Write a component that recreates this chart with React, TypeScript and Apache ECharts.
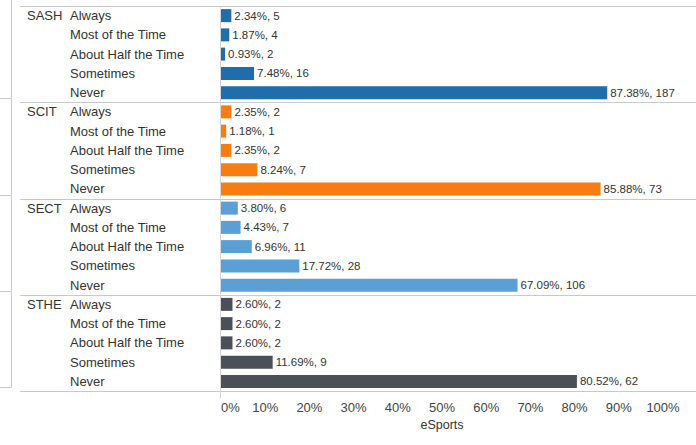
import React, { useEffect, useRef } from "react";
import * as echarts from "echarts";

const groups = ["SASH", "SCIT", "SECT", "STHE"];
const responses = ["Always", "Most of the Time", "About Half the Time", "Sometimes", "Never"];
const groupColors = ["#1f6dab", "#f87d10", "#5b9fd5", "#4b5058"];
const pctSASH = [2.34, 1.87, 0.93, 7.48, 87.38];
const cntSASH = [5, 4, 2, 16, 187];
const pctSCIT = [2.35, 1.18, 2.35, 8.24, 85.88];
const cntSCIT = [2, 1, 2, 7, 73];
const pctSECT = [3.8, 4.43, 6.96, 17.72, 67.09];
const cntSECT = [6, 7, 11, 28, 106];
const pctSTHE = [2.6, 2.6, 2.6, 11.69, 80.52];
const cntSTHE = [2, 2, 2, 9, 62];
const xTicks = [0, 10, 20, 30, 40, 50, 60, 70, 80, 90, 100];

const pcts = [pctSASH, pctSCIT, pctSECT, pctSTHE];
const cnts = [cntSASH, cntSCIT, cntSECT, cntSTHE];

export default function App() {
  const ref = useRef<HTMLDivElement>(null);
  useEffect(() => {
    document.body.style.margin = "0";
    if (!ref.current) return;
    const chart = echarts.init(ref.current, null, { renderer: "svg" });
    const W = 696;
    const H = 445;
    const gridLeft = 221;
    const gridRight = 33;
    const gridTop = 6;
    const gridBottom = 54;
    const bottomY = H - gridBottom;
    const rows = groups.length * responses.length;
    const rowH = (bottomY - gridTop) / rows;

    const cats: string[] = [];
    const respLabels: string[] = [];
    const groupLabels: string[] = [];
    const data: any[] = [];
    groups.forEach((g, gi) => {
      responses.forEach((r, ri) => {
        cats.push(g + "|" + r);
        respLabels.push(r);
        groupLabels.push(ri === 0 ? g : "");
        data.push({
          value: pcts[gi][ri],
          count: cnts[gi][ri],
          itemStyle: { color: groupColors[gi] },
        });
      });
    });

    const lineStyle = { stroke: "#c9c9c9", lineWidth: 1 };
    const graphics: any[] = [];
    for (let k = 0; k <= groups.length; k++) {
      const y = Math.round(gridTop + k * responses.length * rowH) + 0.5;
      graphics.push({
        type: "line",
        shape: { x1: 20, y1: y, x2: W, y2: y },
        style: lineStyle,
        silent: true,
      });
      if (k > 0) {
        const yl = y - 4;
        graphics.push({
          type: "line",
          shape: { x1: 0, y1: yl, x2: 11.5, y2: yl },
          style: lineStyle,
          silent: true,
        });
      }
    }
    graphics.push({
      type: "line",
      shape: { x1: 11.5, y1: 0, x2: 11.5, y2: Math.round(bottomY) - 4 + 0.5 },
      style: lineStyle,
      silent: true,
    });
    graphics.push({
      type: "line",
      shape: { x1: gridLeft - 0.5, y1: gridTop, x2: gridLeft - 0.5, y2: bottomY + 7 },
      style: { stroke: "#d6d6d6", lineWidth: 1 },
      silent: true,
    });

    const font = "'Liberation Sans', Arial, Helvetica, sans-serif";

    chart.setOption({
      animation: false,
      textStyle: { fontFamily: font },
      grid: { left: gridLeft, right: gridRight, top: gridTop, bottom: gridBottom, containLabel: false },
      xAxis: {
        type: "value",
        min: xTicks[0],
        max: xTicks[xTicks.length - 1],
        interval: 10,
        name: "eSports",
        nameLocation: "middle",
        nameGap: 27,
        nameTextStyle: { color: "#333", fontSize: 12.5, fontFamily: font },
        axisLine: { show: false },
        axisTick: { show: false },
        splitLine: { show: false },
        axisLabel: {
          formatter: "{value}%",
          color: "#444",
          fontSize: 13,
          margin: 10,
          fontFamily: font,
          alignMinLabel: "left",
        },
      },
      yAxis: [
        {
          type: "category",
          data: cats,
          inverse: true,
          axisLine: { show: false },
          axisTick: { show: false },
          splitLine: { show: false },
          axisLabel: {
            interval: 0,
            align: "left",
            margin: gridLeft - 70,
            color: "#333",
            fontSize: 13,
            fontFamily: font,
            formatter: (_v: string, i: number) => respLabels[i],
          },
        },
        {
          type: "category",
          data: cats,
          inverse: true,
          position: "left",
          offset: 0,
          axisLine: { show: false },
          axisTick: { show: false },
          splitLine: { show: false },
          axisLabel: {
            interval: 0,
            align: "left",
            margin: gridLeft - 27,
            color: "#333",
            fontSize: 13,
            fontFamily: font,
            formatter: (_v: string, i: number) => groupLabels[i],
          },
        },
      ],
      series: [
        {
          type: "bar",
          yAxisIndex: 0,
          data,
          barWidth: 13,
          label: {
            show: true,
            position: "right",
            distance: 3,
            color: "#333",
            fontSize: 11.5,
            fontFamily: font,
            formatter: (p: any) => `${p.value.toFixed(2)}%, ${p.data.count}`,
          },
        },
      ],
      graphic: graphics,
    });
    return () => chart.dispose();
  }, []);
  return <div ref={ref} style={{ width: 696, height: 445 }} />;
}
